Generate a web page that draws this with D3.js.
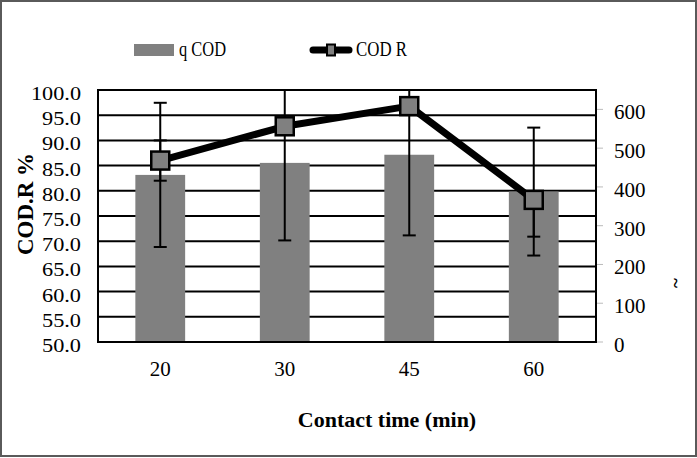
<!DOCTYPE html>
<html><head><meta charset="utf-8">
<script src="https://cdn.jsdelivr.net/npm/d3@7"></script>
<style>html,body{margin:0;padding:0;background:#fff}svg{display:block}</style>
</head><body>
<script>
// ---- data ----
const categories = ["20", "30", "45", "60"];
const qCOD = [431, 462, 483, 388];           // bars, right axis
const qCODErr = [186, 200, 208, 165];        // +/- error on bars
const codR = [86.0, 92.8, 96.8, 78.2];       // line, left axis (%)
const codRErrPlus = [4.0, 1.5, 1.5, 0];
const codRErrMinus = [4.0, 1.5, 1.5, 7.3];
const leftTicks = [50, 55, 60, 65, 70, 75, 80, 85, 90, 95, 100];
const rightTicks = [0, 100, 200, 300, 400, 500, 600];

const W = 697, H = 458;
const svg = d3.select("body").append("svg").attr("width", W).attr("height", H);
const serif = "'Liberation Serif','Times New Roman',serif";

// outer border
svg.append("rect").attr("x", 1).attr("y", 1).attr("width", W - 2).attr("height", 455)
  .attr("fill", "#fff").attr("stroke", "#5a5a5a").attr("stroke-width", 2);

const plot = {l: 98, r: 596, t: 90, b: 342};
const x = d3.scaleBand().domain(categories).range([plot.l, plot.r]).paddingInner(0.6).paddingOuter(0.3);
const yL = d3.scaleLinear().domain([50, 100]).range([plot.b, plot.t]);
const yR = d3.scaleLinear().domain([0, 650]).range([plot.b, plot.t]);

svg.append("clipPath").attr("id", "clip").append("rect")
  .attr("x", plot.l).attr("y", plot.t).attr("width", plot.r - plot.l).attr("height", plot.b - plot.t);

// gridlines
svg.append("g").selectAll("line").data(leftTicks).join("line")
  .attr("x1", plot.l).attr("x2", plot.r).attr("y1", d => yL(d)).attr("y2", d => yL(d))
  .attr("stroke", "#000").attr("stroke-width", 2);
// vertical borders
svg.append("line").attr("x1", plot.l).attr("x2", plot.l).attr("y1", plot.t - 1).attr("y2", plot.b + 1).attr("stroke", "#000").attr("stroke-width", 2);
svg.append("line").attr("x1", plot.r).attr("x2", plot.r).attr("y1", plot.t - 1).attr("y2", plot.b + 1).attr("stroke", "#000").attr("stroke-width", 2);

// bars
svg.append("g").selectAll("rect").data(categories).join("rect")
  .attr("x", d => x(d)).attr("width", x.bandwidth())
  .attr("y", (d, i) => yR(qCOD[i])).attr("height", (d, i) => plot.b - yR(qCOD[i]) - 1)
  .attr("fill", "#808080");

// bar error bars
const gE = svg.append("g").attr("clip-path", "url(#clip)").attr("stroke", "#000").attr("stroke-width", 2);
categories.forEach((c, i) => {
  const cx = x(c) + x.bandwidth() / 2;
  const y1 = yR(qCOD[i] + qCODErr[i]), y2 = yR(qCOD[i] - qCODErr[i]);
  gE.append("line").attr("x1", cx).attr("x2", cx).attr("y1", y1).attr("y2", y2);
  gE.append("line").attr("x1", cx - 6.5).attr("x2", cx + 6.5).attr("y1", y1).attr("y2", y1);
  gE.append("line").attr("x1", cx - 6.5).attr("x2", cx + 6.5).attr("y1", y2).attr("y2", y2);
});

// line
const line = d3.line().x((d, i) => x(categories[i]) + x.bandwidth() / 2).y(d => yL(d));
svg.append("path").datum(codR).attr("d", line).attr("fill", "none")
  .attr("stroke", "#000").attr("stroke-width", 7).attr("stroke-linejoin", "round");

// line error bars
const gL = svg.append("g").attr("stroke", "#000").attr("stroke-width", 2);
categories.forEach((c, i) => {
  const cx = x(c) + x.bandwidth() / 2;
  const y1 = yL(codR[i] + codRErrPlus[i]), y2 = yL(codR[i] - codRErrMinus[i]);
  gL.append("line").attr("x1", cx).attr("x2", cx).attr("y1", y1).attr("y2", y2);
  gL.append("line").attr("x1", cx - 6.5).attr("x2", cx + 6.5).attr("y1", y1).attr("y2", y1);
  gL.append("line").attr("x1", cx - 6.5).attr("x2", cx + 6.5).attr("y1", y2).attr("y2", y2);
});

// markers
svg.append("g").selectAll("rect").data(codR).join("rect")
  .attr("x", (d, i) => x(categories[i]) + x.bandwidth() / 2 - 9)
  .attr("y", d => yL(d) - 9).attr("width", 18).attr("height", 18)
  .attr("fill", "#808080").attr("stroke", "#000").attr("stroke-width", 2.5);

// left axis labels (narrow, as in the reference)
svg.append("g").selectAll("text").data(leftTicks).join("text")
  .attr("x", 81).attr("y", d => yL(d) + 10)
  .attr("text-anchor", "end").attr("font-family", serif).attr("font-size", 19)
  .attr("textLength", d => d >= 100 ? 50 : 39).attr("lengthAdjust", "spacingAndGlyphs")
  .text(d => d3.format(".1f")(d));

// right axis ticks + labels
svg.append("g").selectAll("line").data(rightTicks).join("line")
  .attr("x1", 597).attr("x2", 603).attr("y1", d => yR(d)).attr("y2", d => yR(d))
  .attr("stroke", "#bbb").attr("stroke-width", 1);
svg.append("g").selectAll("text").data(rightTicks).join("text")
  .attr("x", 614).attr("y", d => yR(d) + 10)
  .attr("font-family", serif).attr("font-size", 21)
  .text(d => d);

// x labels
svg.append("g").selectAll("text").data(categories).join("text")
  .attr("x", d => x(d) + x.bandwidth() / 2).attr("y", 376)
  .attr("text-anchor", "middle").attr("font-family", serif).attr("font-size", 21)
  .text(d => d);

// axis titles
svg.append("text").attr("x", 387).attr("y", 427).attr("text-anchor", "middle")
  .attr("font-family", serif).attr("font-size", 22).attr("font-weight", "bold")
  .text("Contact time (min)");
svg.append("text").attr("transform", "translate(33,204) rotate(-90)").attr("text-anchor", "middle")
  .attr("font-family", serif).attr("font-size", 23).attr("font-weight", "bold")
  .text("COD.R %");
svg.append("text").attr("transform", "translate(682,283) rotate(-90)").attr("text-anchor", "middle")
  .attr("font-family", serif).attr("font-size", 19).attr("font-weight", "bold")
  .text("~");

// legend
svg.append("rect").attr("x", 134).attr("y", 44).attr("width", 40).attr("height", 12).attr("fill", "#808080");
svg.append("text").attr("x", 179).attr("y", 56).attr("font-family", serif).attr("font-size", 21)
  .attr("textLength", 47).attr("lengthAdjust", "spacingAndGlyphs").text("q COD");
svg.append("line").attr("x1", 313).attr("x2", 349).attr("y1", 50).attr("y2", 50)
  .attr("stroke", "#000").attr("stroke-width", 7).attr("stroke-linecap", "round");
svg.append("rect").attr("x", 327).attr("y", 44.5).attr("width", 8).attr("height", 11)
  .attr("fill", "#808080").attr("stroke", "#000").attr("stroke-width", 2);
svg.append("text").attr("x", 356).attr("y", 56).attr("font-family", serif).attr("font-size", 21)
  .attr("textLength", 51).attr("lengthAdjust", "spacingAndGlyphs").text("COD R");
</script>
</body></html>
